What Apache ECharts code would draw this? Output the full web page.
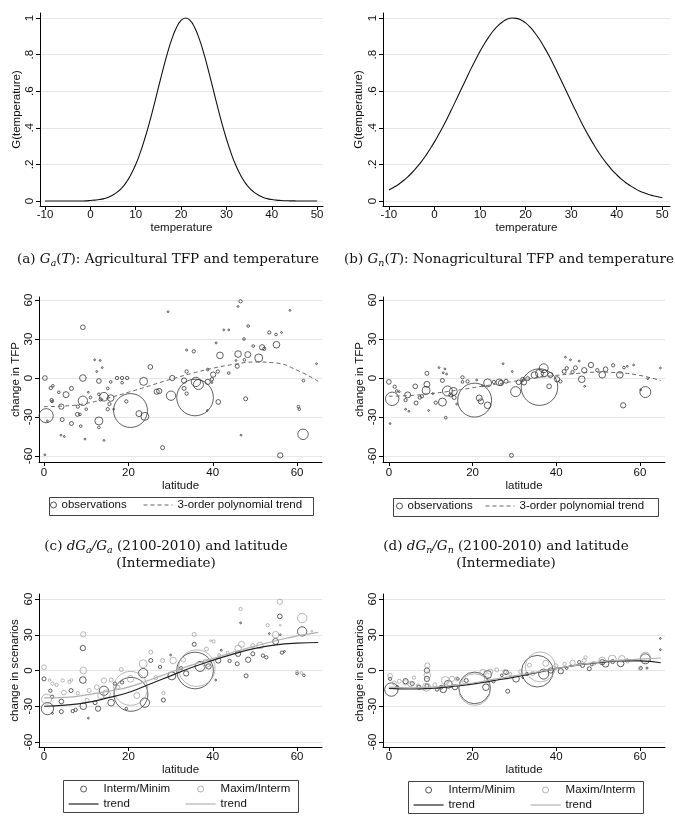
<!DOCTYPE html>
<html><head><meta charset="utf-8">
<script src="https://cdn.jsdelivr.net/npm/echarts@6/dist/echarts.min.js"></script>
<style>html,body{margin:0;padding:0;background:#fff}#c{width:675px;height:830px}</style>
</head><body><div id="c"></div>
<script>
// ---------- DATA ----------
const tempValues = [-10,-9,-8,-7,-6,-5,-4,-3,-2,-1,0,1,2,3,4,5,6,7,8,9,10,11,12,13,14,15,16,17,18,19,20,21,22,23,24,25,26,27,28,29,30,31,32,33,34,35,36,37,38,39,40,41,42,43,44,45,46,47,48,49,50];
const gAgri = [0,0,0,0,0,0,0,0,0.0002,0.0007,0.003,0.005,0.008,0.013,0.021,0.033,0.050,0.073,0.105,0.147,0.199,0.264,0.340,0.426,0.520,0.619,0.717,0.808,0.887,0.948,0.987,1.000,0.987,0.948,0.887,0.808,0.717,0.619,0.520,0.426,0.340,0.264,0.199,0.147,0.105,0.073,0.050,0.033,0.021,0.013,0.008,0.005,0.003,0.0016,0.0009,0.0005,0.0002,0,0,0,0];
const gNonAgri = [0.060,0.074,0.089,0.108,0.129,0.153,0.181,0.211,0.245,0.283,0.323,0.367,0.413,0.462,0.513,0.565,0.618,0.670,0.722,0.771,0.818,0.861,0.899,0.933,0.960,0.980,0.994,1.000,0.998,0.989,0.973,0.950,0.920,0.885,0.844,0.800,0.752,0.701,0.649,0.597,0.544,0.493,0.442,0.394,0.349,0.307,0.267,0.231,0.199,0.169,0.143,0.120,0.100,0.083,0.068,0.055,0.045,0.036,0.029,0.023,0.018];
const tempTicks = [-10,0,10,20,30,40,50];
const gTicks = [0,0.2,0.4,0.6,0.8,1];
const latTicks = [0,20,40,60];
const changeTicks = [-60,-30,0,30,60];

const trendLat = [0,5,10,15,20,25,30,35,40,45,50,55,60,65];
const trendAgri = [-22,-21.5,-19.5,-15.5,-11,-6,-1,3.5,7.5,10.5,12.3,11.5,6,-2.5];
const trendNonAgri = [-14,-13.5,-12,-10,-7.5,-5,-2.5,0,2,3.5,4.5,4,2,-2];
const trendAgriIM = [-30,-29,-27,-23,-18.5,-11.5,-4.5,2.5,8.5,14,18.5,21.5,23,23.5];
const trendAgriMI = [-23,-22.5,-20.5,-17.5,-14,-8,-1.5,4.5,10,15.5,20.5,25,29,32];
const trendNonAgriIM = [-15,-15.5,-15,-13.5,-11.5,-8.5,-5.5,-2,1.5,4.5,6.5,8,8,6.5];
const trendNonAgriMI = [-14,-14.5,-14,-12.5,-10.5,-7.5,-4.5,-1.5,1.5,4.5,7,8.5,9.5,10.5];

// observations: [latitude, change, population weight]
const obsAgri = [
[9.2,39,22],[29.4,51,2],[0.2,0,22],[9.2,0,44],[1.6,-7.7,11],[2.1,-6,7],[6.5,-8,16],[5.2,-12.8,36],[3.5,-11,7],[1.9,-18,7],
[4.1,-22,28],[0.5,-29,200],[4.3,-32,16],[6.5,-35,16],[8.7,-37,7],[9.2,-17.5,87],[8,-22,11],[7.9,-28,16],[10,-24,7],[13,-33,64],
[13,-38,7],[13,-2.3,22],[14.2,-14.4,75],[15.8,-15.4,44],[15.1,-24,11],[15.5,-20,11],[13.4,-16.5,11],[17.3,0,11],[18.5,0,11],[19.7,0,11],
[18.5,-3.6,7],[23.6,-2.6,64],[20.5,-25,1150],[22.5,-27.4,36],[23.9,-29.5,64],[25.2,8.5,22],[30.4,0,28],[30.1,-13.6,87],[27.3,-10,28],[28.1,-53.6,16],
[14.2,-48,2],[15.8,-3,7],[15.1,-8,7],[0.8,-33,3],[0.2,-59,1],[4,-44,2],[4.8,-45,2],[9.7,-47,1],[12,14,1],[13.3,13.5,1],
[12.5,5,1],[13.8,8,1],[10.5,-11,2],[16.5,-24,2],[1.8,-17,11],[8.5,-28,7],[19.5,-18,11],[26.7,-10.5,28],[13,-12.5,7],[11,-15,7],
[46.6,59,11],[46,55,2],[58.3,52,2],[48.4,40,7],[42.6,37,2],[43.8,37,2],[53.4,35,11],[55,33.5,7],[56.3,35,2],[47.4,30,7],
[40.8,27,4],[33.8,21.5,4],[35.5,20.5,11],[41.7,17.4,44],[46,18.4,44],[48.3,18,36],[51.7,23.6,28],[55.1,25.6,44],[50.9,15.4,64],[49.6,24.6,7],
[52.2,22.5,11],[47.5,14,7],[45.5,13.5,3],[45.8,9,16],[43.8,3.8,7],[33.8,5,11],[40.1,2.6,28],[38.8,6.5,7],[41.2,5,11],[36,-3,87],
[36.6,-5,100],[38.8,-3,28],[39.8,-1,11],[33.2,-2,28],[33.2,-8,16],[33.8,-12,11],[39.8,-3.5,2],[35.8,-15,1340],[41.3,-18.4,22],[47.8,-16,16],
[61.5,-2,7],[60.3,-22,7],[60.5,-24,7],[61.4,-43.3,110],[56,-59.5,28],[46.7,-44,2],[64.6,11,2],[38.7,-25,2]
];
const obsNonAgri = [
[0,-3,22],[0.8,-16,180],[1.4,-6.7,11],[1.9,-10,7],[4.5,-13,36],[4,-17,11],[6.3,-6.4,22],[6.5,-19.2,16],[9.1,3.6,16],[9.1,-4.9,36],
[8.9,-9.5,64],[7.9,-14,11],[7.4,-15,11],[11.2,-19,11],[12.8,-18.5,64],[12.8,-1.9,16],[14,-10,100],[15.4,-10.3,64],[14.8,-13,16],[15.6,-15,16],
[17.6,0.5,11],[18.8,-2.6,11],[17.6,-3,7],[20.5,-17,1150],[21.6,-15.4,36],[22,-18,28],[23.6,-21,44],[23.6,-3.8,64],[26.4,-3.3,44],[25.1,-3,11],
[26.8,-3.8,28],[30.3,-10.5,100],[28,-2.5,16],[13.6,-30.5,7],[29.3,-59.5,16],[0.3,-35,2],[4,-24,2],[4.8,-25.6,2],[9.5,-25,2],[12,8,2],
[13.4,7,2],[13,4,2],[13.8,3,2],[21,-1.5,2],[22.4,-6,2],[27.3,11,2],[29.5,5,2],[31,-3.3,22],[32,-1,16],[32.3,-3.3,28],
[10.5,-12,2],[16.2,-20,2],[2.5,-10.5,2],
[36,-7,1340],[37,7.5,80],[36,3.6,64],[34.8,2.3,44],[37.2,3.6,44],[38.6,2.3,28],[40.2,-1,28],[38.3,-6.4,22],[33.2,-0.5,16],[41,-2.6,11],
[41.9,5,16],[42.5,7.5,11],[43.9,4.6,11],[46.1,-1,44],[46.7,6,28],[48.3,10,28],[46.8,-6.4,2],[51,2.5,44],[51.8,6.7,22],[49.8,6,11],
[53.6,9.8,11],[55.2,2.4,44],[56.2,8,7],[57,9,2],[58.5,10,2],[56,-21,28],[61.3,-10.8,120],[60.2,-9,2],[61.9,-0.5,2],[64.9,7.7,2],
[42.2,16,2],[43.4,14,2],[45.5,13,2],[44.6,7.8,16]
];
const obsAgriIM = [
[9.2,18.8,28],[9.2,-8,44],[0,-7,16],[0.8,-32,150],[4.1,-26,22],[4.1,-34.5,16],[6.4,-16.8,16],[1.5,-17,11],[1.9,-22,11],[9.3,-30,44],
[7.5,-33,11],[6.8,-34,11],[12.8,-32,28],[14.2,-17,87],[15.9,-27,44],[16.8,-11,11],[12.1,-27,16],[20.6,-20,1150],[23.5,-2.2,87],[23.9,-27,87],
[25.3,8.4,16],[28.3,-24.8,16],[27.5,3,11],[30.3,-4.5,64],[35.6,22,16],[37,3.4,100],[32.5,2,11],[33.7,-2.5,28],[35.8,0,1340],[39,3.4,28],
[41.3,8.4,28],[40.7,-8,2],[44,8,11],[45.8,5.6,16],[46,14,28],[46.6,40,3],[47.9,-4.5,16],[48.4,9,28],[49.5,14,16],[51.9,12.5,11],
[52.7,11,11],[53.4,31,2],[54.9,24.4,36],[55.9,45.4,22],[56.4,15,11],[56,30,2],[61.2,32.8,87],[60,-2.5,7],[61.6,-4,7],[57,16,2],
[10.5,-40,2],[2,-36,3],[18.5,-10,11],[30,13,2],[42,17,4],[19.5,-32,7]
];
const obsAgriMI = [
[0,2.8,22],[9.3,30.3,28],[9.3,0,44],[1.3,-8,7],[2,-11,11],[4.4,-8.4,11],[6,-9.5,11],[6.5,-8,7],[0.6,-24,100],[4.7,-18.6,22],
[10.7,-16.8,16],[14.2,-8.4,28],[14.8,-19.6,64],[15.9,-8,16],[13.5,-21,44],[20.5,-15,1150],[18.3,0.8,16],[20.5,-7,44],[23.5,5.6,64],[25.3,15.4,16],
[28.1,8.4,16],[28.3,-19,11],[30.6,8.4,44],[36.2,2,1340],[35.6,30.3,16],[40.2,24.4,11],[38.5,18,16],[46,18.5,44],[46.6,51.6,11],[49.5,21,16],
[51.2,21,44],[55.9,57.7,28],[54.9,30,44],[61.2,44,87],[53,38,11],[56,38,2],[60,-1,7],[61,-2,7],[41.5,13,7],[43.5,15,7],
[39.5,25,2],[33,9,22],[38.5,6,64],[26.5,-6,16],[12.5,-14,22],[17.5,-14,16],[3,-12,11],[8,-19,11],[10.2,-25,16],[22,-21,36],
[46.8,22,36],[63.5,33,2]
];
const obsNonAgriIM = [
[0.6,-16,180],[9.1,0,28],[9.1,-7,28],[9.1,-13,16],[0.3,-7,11],[4,-9,28],[5.6,-11,16],[7.2,-14,16],[13,-15.8,44],[14.2,-11.6,64],
[15.8,-14,28],[18.5,-8.4,16],[20.5,-14.6,1000],[23.2,-14,44],[23.6,-3.4,64],[28.4,-17.4,16],[28,-1.5,22],[30.4,-7,44],[35.5,-0.6,1000],[37,-3,100],
[38.7,0,28],[41.1,-0.6,28],[45.5,7,11],[46.3,4.2,16],[47.9,1.5,16],[51,7,28],[51.8,5.6,44],[53.5,7.5,16],[55.4,5.9,44],[60.2,2,11],
[61.7,2,4],[61.3,9.8,100],[64.9,17.5,2],[64.9,26.9,1],[2,-14,11],[11.5,-16,11],[16.5,-7,7],[25,-9,11],[33,-3,11],[42.5,2,7],
[43.5,4,2],[48.5,5,7],[57,9,2],[32,-6,2],[27,-4,7],[12.5,-14,16]
];
const obsNonAgriMI = [
[0.3,-4.5,22],[9.2,4.2,28],[9.2,-4,44],[1.3,-10.5,16],[2.5,-9,16],[4,-10,28],[5.2,-11.5,28],[9,-14,64],[13.5,-8.4,64],[15.1,-7,28],
[16.3,-7,16],[20.5,-16,1000],[22.5,-1.7,44],[24.2,-1,28],[25.8,0.5,16],[27.7,-1,16],[36.2,3,900],[33.6,4.5,16],[34.4,-2.5,16],[39.9,4,16],
[43.9,6.5,28],[46.7,8.4,16],[51,8.5,44],[53.4,9.5,64],[55.7,9.8,44],[61.3,11.2,100],[60,1.5,7],[47,11,11],[42,5.5,11],[7,-13,16],
[11,-12,16],[18,-10,11],[29,-3,11],[31.5,-1,16],[37.5,6,36],[49,6,16],[57,8,16],[14.5,-11,28],[23.5,-8,36],[6,-6,11]
];

// ---------- STYLE / LAYOUT ----------
const SANS = '"Liberation Sans", Arial, sans-serif';
const SERIF = '"DejaVu Serif", serif';
const TXT = '#111';
const FS = 11.5;
const CFS = 13.5;

const grids = [
  {left:40, top:13, width:283, height:193},
  {left:383, top:13, width:287, height:193},
  {left:39, top:297, width:283, height:165},
  {left:383, top:297, width:282, height:165},
  {left:39, top:594, width:283, height:153},
  {left:383, top:594, width:282, height:153}
];

function gFmt(v){ if (v === 0) return '0'; if (v === 1) return '1'; return String(+v.toFixed(1)).replace('0.', '.'); }

function xAx(i, min, max, ticks, name, nameGap, margin){
  return {type:'value', gridIndex:i, min:min, max:max, name:name, nameLocation:'middle', nameGap:nameGap,
    nameTextStyle:{fontSize:FS, color:TXT, fontFamily:SANS},
    axisLine:{show:true, onZero:false, lineStyle:{color:'#000', width:1}},
    axisTick:{show:true, inside:false, length:4, customValues:ticks, lineStyle:{color:'#000', width:1}},
    axisLabel:{customValues:ticks, margin:margin, fontSize:FS, color:TXT, fontFamily:SANS},
    splitLine:{show:false}};
}
function yAx(i, min, max, ticks, name, nameGap, fmt){
  return {type:'value', gridIndex:i, min:min, max:max, name:name, nameLocation:'middle', nameGap:nameGap,
    nameTextStyle:{fontSize:FS, color:TXT, fontFamily:SANS},
    axisLine:{show:true, onZero:false, lineStyle:{color:'#000', width:1}},
    axisTick:{show:true, inside:false, length:4, customValues:ticks, lineStyle:{color:'#000', width:1}},
    axisLabel:{customValues:ticks, margin:4, rotate:90, fontSize:FS, color:TXT, fontFamily:SANS, formatter:fmt},
    splitLine:{show:true, lineStyle:{color:'#e6e6e6', width:1}}};
}

const xAxes = [
  xAx(0, -11.1, 51.3, tempTicks, 'temperature', 16, 3),
  xAx(1, -11.3, 51.7, tempTicks, 'temperature', 16, 3),
  xAx(2, -1.2, 65.9, latTicks, 'latitude', 16, 5),
  xAx(3, -1.4, 66, latTicks, 'latitude', 16, 5),
  xAx(4, -1.2, 65.9, latTicks, 'latitude', 15, 4),
  xAx(5, -1.4, 66, latTicks, 'latitude', 15, 4)
];
const yAxes = [
  yAx(0, -0.0273, 1.0273, gTicks, 'G(temperature)', 17, gFmt),
  yAx(1, -0.0273, 1.0273, gTicks, 'G(temperature)', 18, gFmt),
  yAx(2, -64.6, 62.3, changeTicks, 'change in TFP', 16),
  yAx(3, -64.6, 62.3, changeTicks, 'change in TFP', 17),
  yAx(4, -64.2, 64.2, changeTicks, 'change in scenarios', 18),
  yAx(5, -64.2, 64.2, changeTicks, 'change in scenarios', 17)
];

const pairs = (xs, ys) => xs.map((x, i) => [x, ys[i]]);
const sizeFn = p => Math.max(1.8, Math.sqrt(p[2]));
const DARK = '#2e2e2e', LIGHT = '#a0a0a0';

function scat(name, idx, data, color, bw){
  return {type:'scatter', name:name, xAxisIndex:idx, yAxisIndex:idx, data:data, symbol:'circle', symbolSize:sizeFn,
    itemStyle:{color:'rgba(0,0,0,0)', borderColor:color, borderWidth:bw}, silent:true};
}
function line(name, idx, data, color, width, type){
  return {type:'line', name:name, xAxisIndex:idx, yAxisIndex:idx, data:data, smooth:true, symbol:'none', showSymbol:false,
    itemStyle:{color:color}, lineStyle:{color:color, width:width, type:type}, silent:true, z:5};
}

const series = [
  line('G_a', 0, pairs(tempValues, gAgri), '#111', 1.1, 'solid'),
  line('G_n', 1, pairs(tempValues, gNonAgri), '#111', 1.1, 'solid'),
  scat('observations', 2, obsAgri, DARK, 0.95),
  line('3-order polynomial trend', 2, pairs(trendLat, trendAgri), '#666', 1, [4,3]),
  scat('observations', 3, obsNonAgri, DARK, 0.95),
  line('3-order polynomial trend', 3, pairs(trendLat, trendNonAgri), '#666', 1, [4,3]),
  scat('Interm/Minim', 4, obsAgriIM, DARK, 0.95),
  scat('Maxim/Interm', 4, obsAgriMI, LIGHT, 0.95),
  line('trend', 4, pairs(trendLat, trendAgriIM), '#222', 1.2, 'solid'),
  line('trend', 4, pairs(trendLat, trendAgriMI), '#b0b0b0', 1.2, 'solid'),
  scat('Interm/Minim', 5, obsNonAgriIM, DARK, 0.95),
  scat('Maxim/Interm', 5, obsNonAgriMI, LIGHT, 0.95),
  line('trend', 5, pairs(trendLat, trendNonAgriIM), '#222', 1.2, 'solid'),
  line('trend', 5, pairs(trendLat, trendNonAgriMI), '#b0b0b0', 1.2, 'solid')
];

const legTxt = {fontSize:FS, color:TXT, fontFamily:SANS};
function leg(left, top, items, w, orient){
  return {left:left, top:top, orient:orient||'horizontal', padding:0, itemGap:3, itemWidth:w, itemHeight:6,
    textStyle:legTxt, selectedMode:false, data:items};
}
const circ = c => ({icon:'circle', itemStyle:{color:'rgba(0,0,0,0)', borderColor:c, borderWidth:1}});
const lineKey = (name, c, w, t) => ({name:name, itemStyle:{color:'rgba(0,0,0,0)', borderWidth:0, opacity:0}, lineStyle:{color:c, width:w, type:t}});
const legends = [
  leg(50, 499, [Object.assign({name:'observations'}, circ(DARK))], 6),
  leg(143, 499, [lineKey('3-order polynomial trend', '#666', 1, [4,3])], 29),
  leg(396, 500, [Object.assign({name:'observations'}, circ(DARK))], 6),
  leg(485, 500, [lineKey('3-order polynomial trend', '#666', 1, [4,3])], 29),
  leg(68, 783, [Object.assign({name:'Interm/Minim'}, circ(DARK)), lineKey('trend', '#222', 1.2, 'solid')], 30, 'vertical'),
  leg(185, 783, [Object.assign({name:'Maxim/Interm'}, circ(LIGHT)), lineKey('trend', '#b0b0b0', 1.2, 'solid')], 30, 'vertical'),
  leg(413, 784, [Object.assign({name:'Interm/Minim'}, circ(DARK)), lineKey('trend', '#222', 1.2, 'solid')], 30, 'vertical'),
  leg(530, 784, [Object.assign({name:'Maxim/Interm'}, circ(LIGHT)), lineKey('trend', '#b0b0b0', 1.2, 'solid')], 30, 'vertical')
];

const rich = {
  n:{fontFamily:SERIF, fontSize:CFS, lineHeight:20, color:'#111'},
  i:{fontFamily:SERIF, fontSize:CFS, lineHeight:20, fontStyle:'italic', color:'#111'},
  s:{fontFamily:SERIF, fontSize:9.5, lineHeight:10, fontStyle:'italic', verticalAlign:'bottom', color:'#111'}
};
function cap(x, y, text){
  return {type:'text', x:x, y:y, silent:true,
    style:{text:text, rich:rich, fill:'#111', font:CFS + 'px ' + SERIF, align:'center', verticalAlign:'middle'}};
}
function frame(x, y, w, h){
  return {type:'rect', shape:{x:x, y:y, width:w, height:h}, silent:true, style:{fill:'none', stroke:'#444', lineWidth:1}};
}
const graphics = [
  cap(168, 259, '{n|(a) }{i|G}{s|a}{n|(}{i|T}{n|): Agricultural TFP and temperature}'),
  cap(509, 259, '{n|(b) }{i|G}{s|n}{n|(}{i|T}{n|): Nonagricultural TFP and temperature}'),
  cap(166, 546, '{n|(c) }{i|dG}{s|a}{i|/G}{s|a}{n| (2100-2010) and latitude}'),
  cap(166, 563, '{n|(Intermediate)}'),
  cap(506, 546, '{n|(d) }{i|dG}{s|n}{i|/G}{s|n}{n| (2100-2010) and latitude}'),
  cap(506, 563, '{n|(Intermediate)}'),
  frame(49.5, 497.5, 264, 18),
  frame(393.5, 498.5, 265, 18),
  frame(63.5, 780.5, 235, 32),
  frame(408.5, 781.5, 235, 32)
];

const chart = echarts.init(document.getElementById('c'), null, {renderer:'canvas'});
chart.setOption({
  animation:false,
  backgroundColor:'#fff',
  grid:grids,
  xAxis:xAxes,
  yAxis:yAxes,
  legend:legends,
  series:series,
  graphic:graphics
});
</script>
</body></html>
